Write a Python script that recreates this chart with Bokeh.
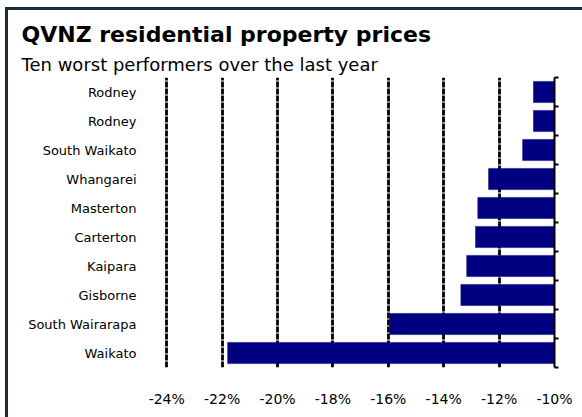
from bokeh.plotting import figure
from bokeh.models import (Range1d, FixedTicker, LinearAxis, Title,
                          PrintfTickFormatter, GlobalInlineStyleSheet)
from bokeh.embed import file_html
from bokeh.resources import INLINE

# ---- data ----
regions = ["Rodney", "Rodney", "South Waikato", "Whangarei", "Masterton",
           "Carterton", "Kaipara", "Gisborne", "South Wairarapa", "Waikato"]
change_pct = [-10.76, -10.76, -11.15, -12.38, -12.77,
              -12.85, -13.17, -13.38, -15.95, -21.8]
x_ticks = [-24, -22, -20, -18, -16, -14, -12, -10]
title_text = "QVNZ residential property prices"
subtitle_text = "Ten worst performers over the last year"

n = len(regions)
ypos = [n - i - 0.5 for i in range(n)]

FONT = "DejaVu Sans"

p = figure(width=582, height=417, output_backend="svg", toolbar_location=None,
           x_range=Range1d(-24.08, -10), y_range=Range1d(0, n),
           min_border_left=164, min_border_right=28,
           min_border_top=77, min_border_bottom=50)
p.outline_line_color = None
p.background_fill_color = "white"
p.border_fill_color = None
# outer frame of the chart (top and left edges) painted on the page background
p.stylesheets = [GlobalInlineStyleSheet(css=(
    "html, body { margin: 0; overflow: hidden; }\n"
    "html { background: "
    "linear-gradient(#1b2b3b, #1b2b3b) 5px 7px / 3px 100% no-repeat, "
    "linear-gradient(#1b2b3b, #1b2b3b) 5px 7px / 100% 3px no-repeat, "
    "white; }\n"
    "body { background: transparent; }"))]

p.hbar(y=ypos, left=change_pct, right=0, height=0.73,
       fill_color="#000080", line_color="#000080", line_width=0.5)

# x axis (bottom)
p.xaxis.ticker = FixedTicker(ticks=x_ticks, minor_ticks=[])
p.xaxis.formatter = PrintfTickFormatter(format="%d%%")
p.xaxis.axis_line_color = None
p.xaxis.major_tick_line_color = None
p.xaxis.minor_tick_line_color = None
p.xaxis.major_label_standoff = 17
p.xaxis.major_label_text_font = FONT
p.xaxis.major_label_text_font_size = "14px"
p.xaxis.major_label_text_color = "black"

# y axis (left) with category names
p.yaxis.ticker = FixedTicker(ticks=ypos, minor_ticks=[])
p.yaxis.major_label_overrides = {y: r for y, r in zip(ypos, regions)}
p.yaxis.axis_line_color = None
p.yaxis.major_tick_line_color = None
p.yaxis.minor_tick_line_color = None
p.yaxis.major_tick_out = 0
p.yaxis.major_label_standoff = 28
p.yaxis.major_label_text_font = FONT
p.yaxis.major_label_text_font_size = "13px"
p.yaxis.major_label_text_color = "black"

# right axis line with boundary ticks
bounds = list(range(n + 1))
ra = LinearAxis(ticker=FixedTicker(ticks=bounds, minor_ticks=[]),
                major_label_overrides={b: "" for b in bounds},
                major_label_standoff=0,
                major_tick_in=0, major_tick_out=4,
                major_tick_line_width=2, axis_line_width=2,
                axis_line_color="black", major_tick_line_color="black",
                minor_tick_line_color=None)
p.add_layout(ra, "right")

# grid
p.xgrid.ticker = FixedTicker(ticks=x_ticks[:-1])
p.xgrid.grid_line_color = "black"
p.xgrid.grid_line_width = 2.8
p.xgrid.grid_line_dash = "6 1"
p.ygrid.visible = False

# titles (main title on top, subtitle closest to the frame)
p.title.text = title_text
p.title.align = "left"
p.title.offset = -143
p.title.text_font = FONT
p.title.text_font_size = "22px"
p.title.text_font_style = "bold"
p.title.text_color = "black"
p.title.standoff = 3
p.add_layout(Title(text=subtitle_text, align="left", offset=-143,
                   text_font=FONT, text_font_size="18px",
                   text_font_style="normal", text_color="black",
                   standoff=6), "above")

open("out.html", "w").write(file_html(p, INLINE))
